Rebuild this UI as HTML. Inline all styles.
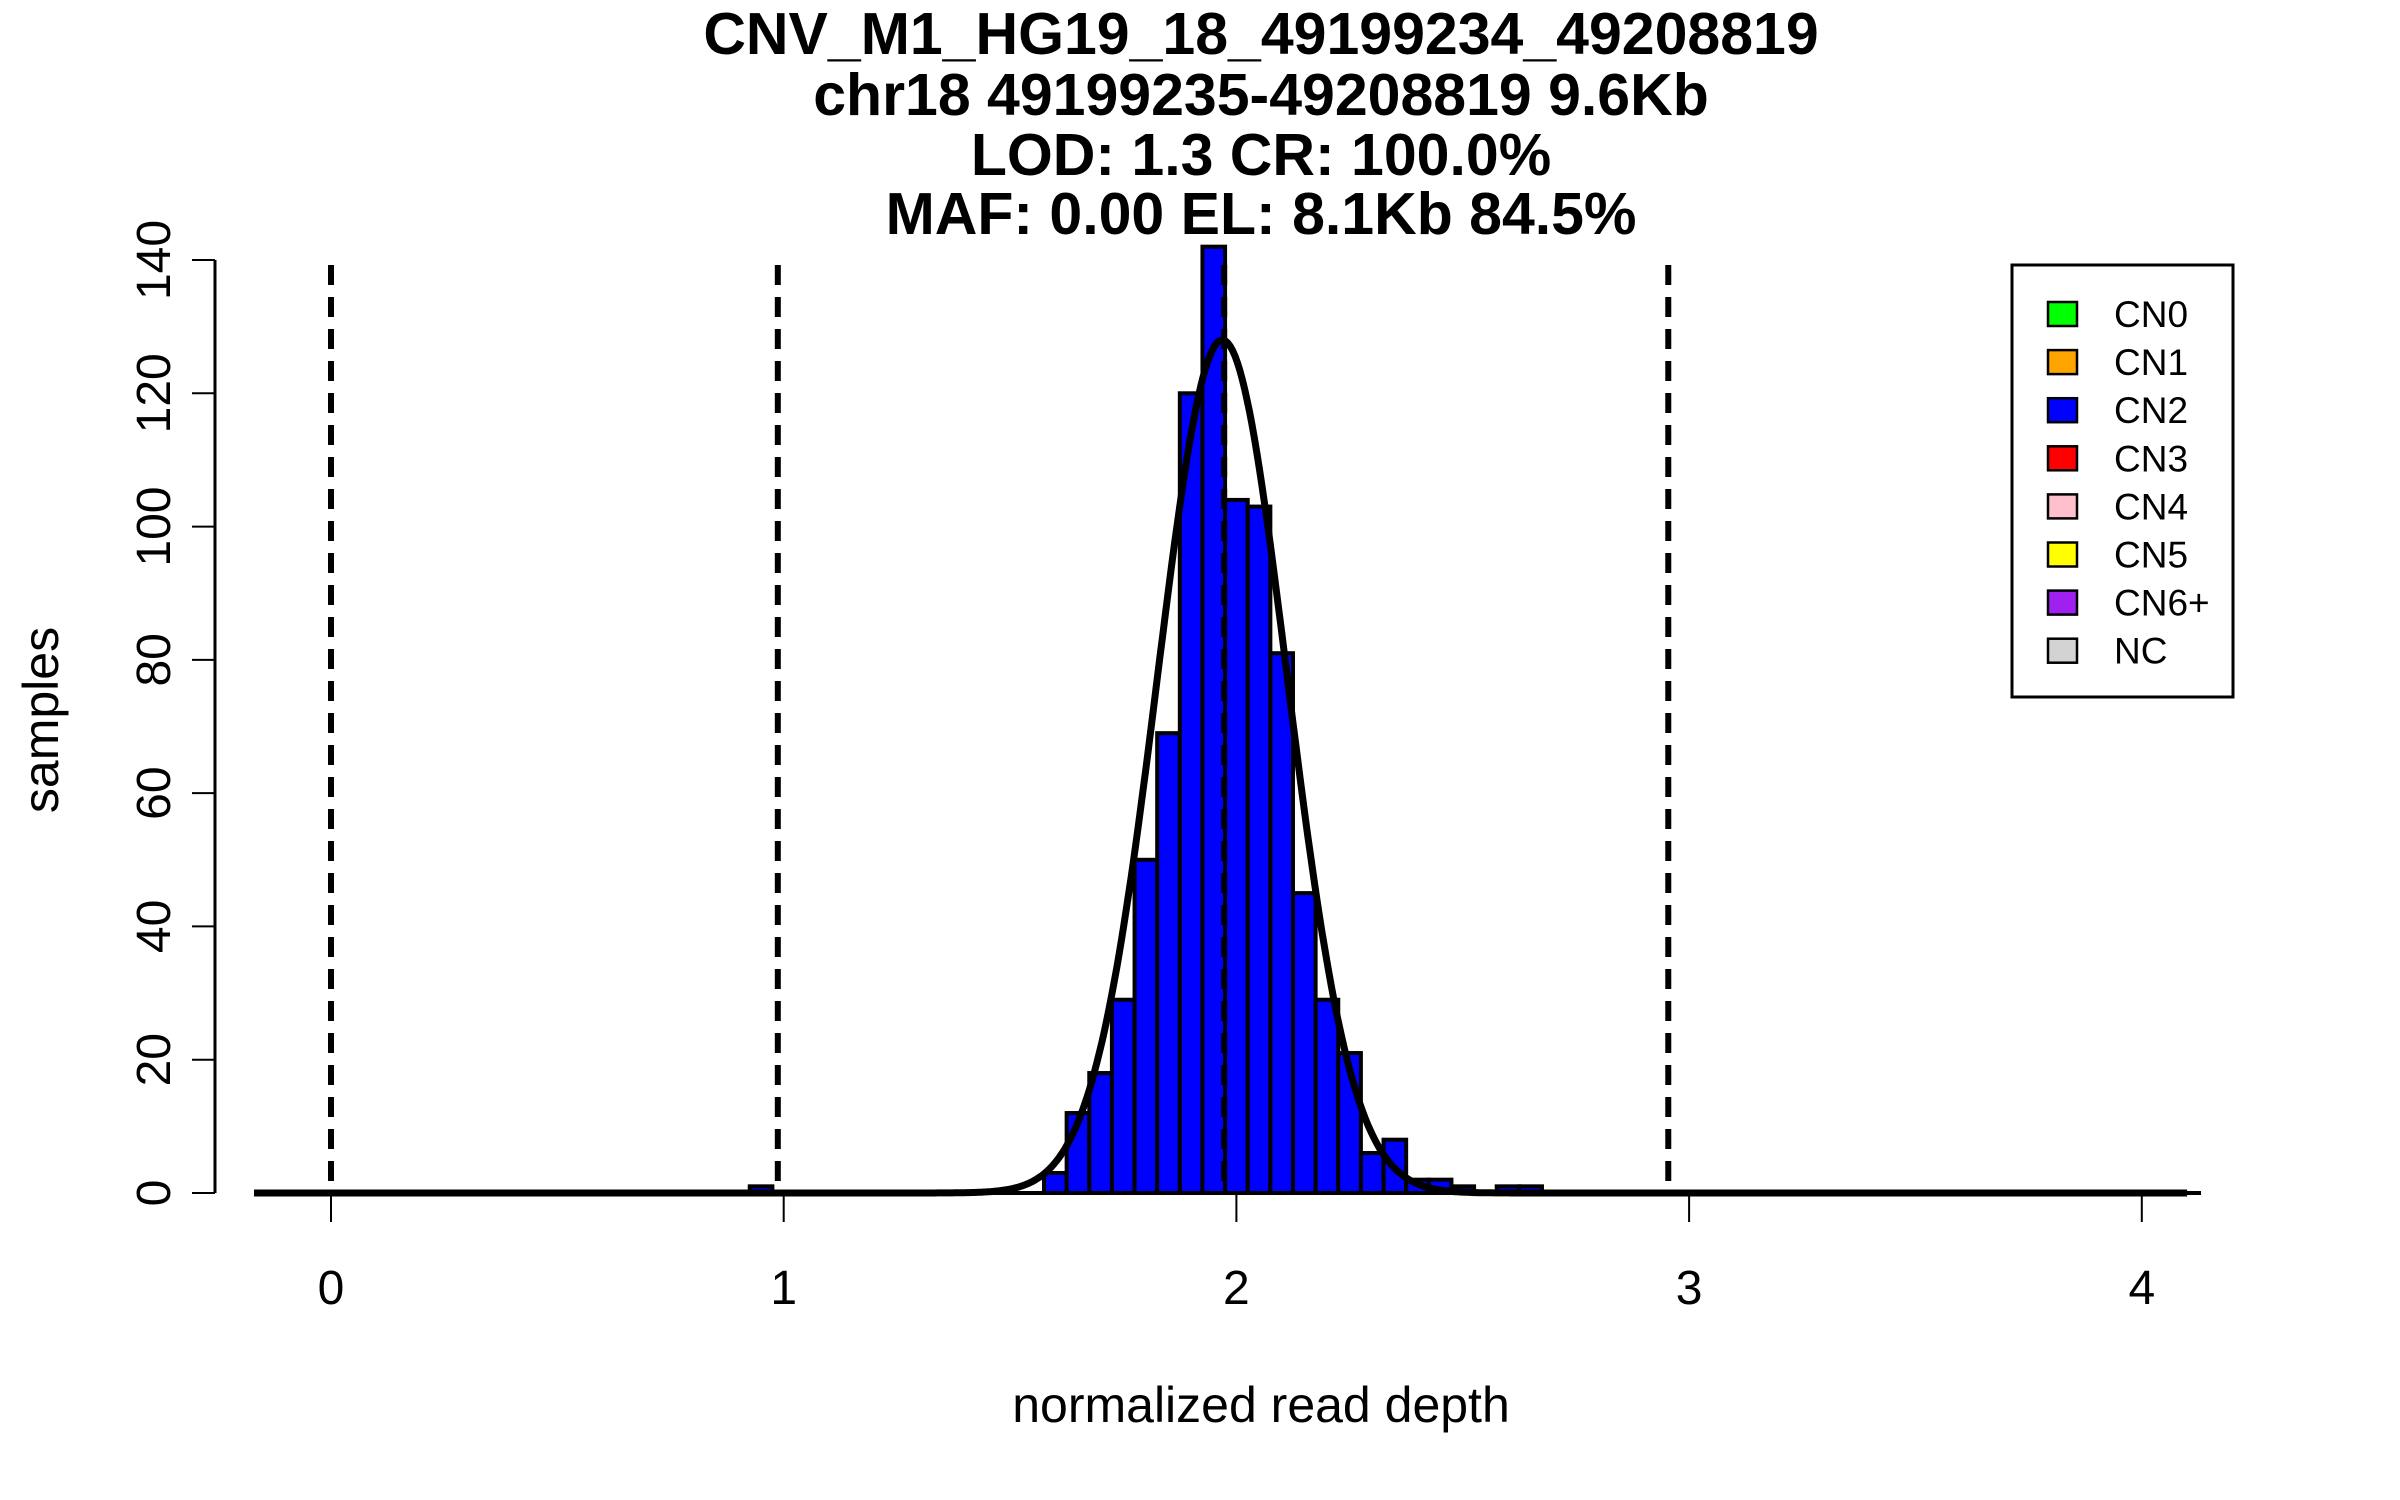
<!DOCTYPE html>
<html><head><meta charset="utf-8"><style>
html,body{margin:0;padding:0;background:#fff}
svg{display:block;font-family:"Liberation Sans",Arial,sans-serif}
</style></head><body>
<svg id="chart" width="2400" height="1500" viewBox="0 0 2400 1500" xmlns="http://www.w3.org/2000/svg">
<g font-weight="bold" font-size="59" text-anchor="middle">
<text x="1261" y="54">CNV_M1_HG19_18_49199234_49208819</text>
<text x="1261" y="115">chr18 49199235-49208819 9.6Kb</text>
<text x="1261" y="175">LOD: 1.3 CR: 100.0%</text>
<text x="1261" y="234">MAF: 0.00 EL: 8.1Kb 84.5%</text>
</g>
<g id="bars"></g>
<g id="curve"></g>
<g id="dashes"></g>
<g id="axes"></g>
<text x="1261" y="1422" font-size="50" text-anchor="middle">normalized read depth</text>
<text transform="translate(58,720) rotate(-90)" font-size="50" text-anchor="middle">samples</text>
<g>
<rect x="2012" y="265" width="221" height="432" fill="#fff" stroke="#000" stroke-width="3"/>
<g id="legend-items"></g>
</g>
</svg>
<script>
const binStart = [-0.175,-0.125,-0.075,-0.025,0.025,0.075,0.125,
 0.625,0.675,0.725,0.775,0.825,0.875,0.925,0.975,1.025,1.075,1.125,1.175,1.225,1.275,1.325,
 1.425,1.475,1.525,
 1.575,1.625,1.675,1.725,1.775,1.825,1.875,1.925,1.975,2.025,2.075,2.125,2.175,2.225,2.275,2.325,2.375,2.425,2.475,2.525,2.575,2.625,
 2.675,2.725,2.775,2.825,2.875,2.925,2.975,3.025,3.075,3.125,3.175,3.225,3.275,3.325,3.375,3.425,3.475,3.525,3.575];
const binCounts = [0,0,0,0,0,0,0,
 0,0,0,0,0,0,1,0,0,0,0,0,0,0,0,
 0,0,0,
 3,12,18,29,50,69,120,142,104,103,81,45,29,21,6,8,2,2,1,0,1,1,
 0,0,0,0,0,0,0,0,0,0,0,0,0,0,0,0,0,0,0];
const binWidth = 0.05;
const fitMean = [1.969];
const fitSd = [0.143];
const fitPeak = [128];
const cnBoundaries = [0, 0.987, 1.973, 2.954];
const xTicks = [0,1,2,3,4];
const yTicks = [0,20,40,60,80,100,120,140];
const legendLabels = ["CN0","CN1","CN2","CN3","CN4","CN5","CN6+","NC"];
const legendColors = ["#00ff00","#ffa500","#0000ff","#ff0000","#ffc0cb","#ffff00","#a020f0","#d3d3d3"];

const NS="http://www.w3.org/2000/svg";
const X = u => 331 + u*452.7;
const Y = v => 1193 - v*(933/140);
function mk(tag, attrs, parent){const e=document.createElementNS(NS,tag);for(const k in attrs)e.setAttribute(k,attrs[k]);parent.appendChild(e);return e;}

const gb=document.getElementById('bars');
binStart.forEach((s,i)=>{
  const c=binCounts[i];
  const r=mk('rect',{x:X(s),y:Y(c),width:X(s+binWidth)-X(s),height:Math.max(0,Y(0)-Y(c)),fill:'#0000ff',stroke:'#000','stroke-width':4},gb);
  
  
});

const gc=document.getElementById('curve');
let d='';
for(let k=0;k<=800;k++){const u=-0.17+k*(4.27/800);const v=fitPeak[0]*Math.exp(-0.5*Math.pow((u-fitMean[0])/fitSd[0],2));d+=(k?'L':'M')+X(u).toFixed(1)+' '+Y(v).toFixed(1);}
const cp=mk('path',{d:d,fill:'none',stroke:'#000','stroke-width':7,'stroke-linejoin':'round'},gc);



const gd=document.getElementById('dashes');
cnBoundaries.forEach(b=>{
  const l=mk('line',{x1:X(b),x2:X(b),y1:265,y2:Y(0),stroke:'#000','stroke-width':6,'stroke-dasharray':'20 12'},gd);
  
  
});

const ga=document.getElementById('axes');
const bl=mk('line',{x1:254,x2:2201,y1:Y(0),y2:Y(0),stroke:'#000','stroke-width':4},ga);


xTicks.forEach(t=>{
  const tl=mk('line',{x1:X(t),x2:X(t),y1:Y(0),y2:Y(0)+29,stroke:'#000','stroke-width':2},ga);
  
  
  const tx=mk('text',{x:X(t),y:1304,'font-size':48,'text-anchor':'middle'},ga);
  tx.textContent=t;
  
  
});
const yl=mk('line',{x1:215,x2:215,y1:Y(0),y2:Y(140),stroke:'#000','stroke-width':3},ga);


yTicks.forEach(t=>{
  const tl=mk('line',{x1:192,x2:215,y1:Y(t),y2:Y(t),stroke:'#000','stroke-width':2},ga);
  
  
  const tx=mk('text',{transform:`translate(170,${Y(t)}) rotate(-90)`,'font-size':48,'text-anchor':'middle'},ga);
  tx.textContent=t;
  
  
});

const gl=document.getElementById('legend-items');
legendLabels.forEach((lab,i)=>{
  const cy=314+i*48.1;
  const sw=mk('rect',{x:2048,y:cy-12,width:29,height:24,fill:legendColors[i],stroke:'#000','stroke-width':2.5},gl);
  
  
  const tx=mk('text',{x:2114,y:cy+13,'font-size':37},gl);
  tx.textContent=lab;
  
  
});
</script>
</body></html>
